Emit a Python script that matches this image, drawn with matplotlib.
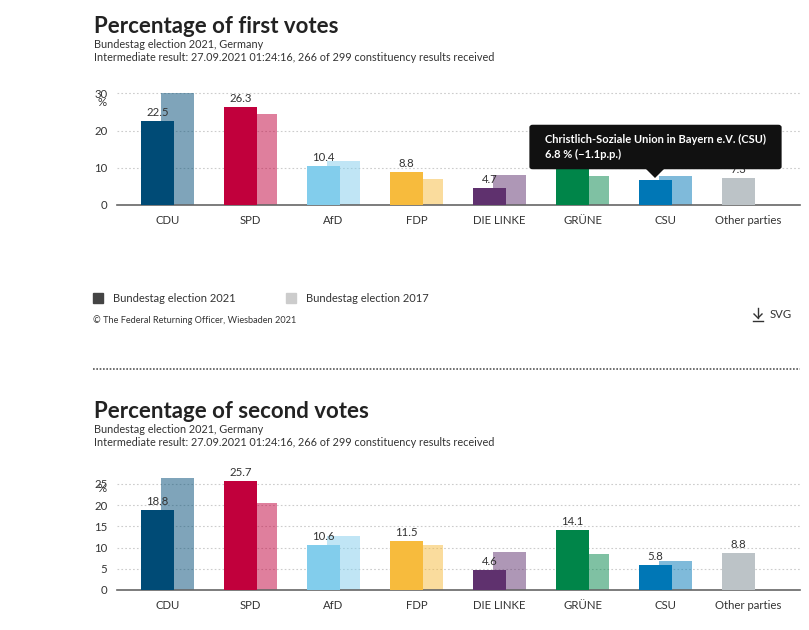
import numpy as np
import matplotlib
matplotlib.use("Agg")
import matplotlib.pyplot as plt
from matplotlib.patches import FancyBboxPatch, Polygon, Rectangle

plt.rcParams['font.family'] = ['Lato', 'DejaVu Sans']

parties = ['CDU', 'SPD', 'AfD', 'FDP', 'DIE LINKE', 'GRÜNE', 'CSU', 'Other parties']
colors = ['#004b76', '#c1003c', '#82cdec', '#f7bb3d', '#5f316e', '#008549', '#0077b6', '#bcc3c7']

first_2021 = [22.5, 26.3, 10.4, 8.8, 4.7, 13.4, 6.8, 7.3]
first_2017 = [30.2, 24.5, 11.9, 7.1, 8.1, 7.8, 7.9, np.nan]
second_2021 = [18.8, 25.7, 10.6, 11.5, 4.6, 14.1, 5.8, 8.8]
second_2017 = [26.4, 20.5, 12.7, 10.6, 9.0, 8.5, 6.8, np.nan]

W, H = 809, 630
TXT = '#333333'

fig = plt.figure(figsize=(W / 100, H / 100), dpi=100)


def fx(px):
    return px / W


def fy(py):
    return 1 - py / H


def header(y, title):
    fig.text(fx(94), fy(y), title, fontsize=16, fontweight='bold', color='#222222', va='baseline')
    fig.text(fx(94), fy(y + 15), 'Bundestag election 2021, Germany', fontsize=7.8, color=TXT, va='baseline')
    fig.text(fx(94), fy(y + 28), 'Intermediate result: 27.09.2021 01:24:16, 266 of 299 constituency results received',
             fontsize=7.8, color=TXT, va='baseline')


def chart(bottom_px, px_per_unit, ymax, ticks, new, old, pct_dy, hidden=()):
    top_px = bottom_px - ymax * px_per_unit
    ax = fig.add_axes([fx(117), fy(bottom_px), fx(800) - fx(117), (bottom_px - top_px) / H])
    x = np.arange(len(parties))
    w = 33 / 83
    off = 10 / 83
    ax.bar(x + off, old, width=w, color=colors, alpha=0.5, zorder=2, linewidth=0)
    ax.bar(x - off, new, width=w, color=colors, zorder=3, linewidth=0)
    for i, (xi, v) in enumerate(zip(x, new)):
        if i in hidden:  # label hidden under the hover tooltip
            continue
        ax.text(xi - off, v + 3 / px_per_unit, f'{v:.1f}', ha='center', va='bottom',
                fontsize=8.2, color=TXT, zorder=4)
    ax.set_xlim((117 - 167.5) / 83, (800 - 167.5) / 83)
    ax.set_ylim(0, ymax)
    ax.set_yticks(ticks)
    ax.set_yticklabels([str(t) for t in ticks])
    for t in ticks[1:]:
        ax.axhline(t, color='#cccccc', lw=0.8, ls=(0, (1.5, 2)), zorder=1)
    ax.set_xticks(x)
    ax.set_xticklabels(parties)
    ax.tick_params(axis='both', length=0, labelsize=8.2, labelcolor=TXT)
    ax.tick_params(axis='y', pad=7)
    ax.tick_params(axis='x', pad=7)
    for s in ['top', 'right', 'left']:
        ax.spines[s].set_visible(False)
    ax.spines['bottom'].set_color('#666666')
    ax.spines['bottom'].set_linewidth(1.2)
    ax.text(-15 / 683, ticks[-1] - pct_dy / px_per_unit, '%', transform=ax.get_yaxis_transform(),
            ha='center', va='center', fontsize=8.2, color=TXT)
    return ax


header(33, 'Percentage of first votes')
chart(205, 3.72, 31, [0, 10, 20, 30], first_2021, first_2017, 9, hidden=(6,))

# legend
fig.patches.append(Rectangle((fx(93), fy(303)), fx(10), 10 / H, color='#444444', transform=fig.transFigure))
fig.text(fx(113), fy(298), 'Bundestag election 2021', fontsize=8, color=TXT, va='center')
fig.patches.append(Rectangle((fx(286), fy(303)), fx(10), 10 / H, color='#cccccc', transform=fig.transFigure))
fig.text(fx(306), fy(298), 'Bundestag election 2017', fontsize=8, color=TXT, va='center')
fig.text(fx(93), fy(320), '© The Federal Returning Officer, Wiesbaden 2021', fontsize=6.6, color=TXT, va='center')

# svg download link
fig.text(fx(770), fy(314), 'SVG', fontsize=8.2, color=TXT, va='center')
fig.add_artist(plt.Line2D([fx(758), fx(758)], [fy(308), fy(318)], color=TXT, lw=1, transform=fig.transFigure))
fig.add_artist(plt.Line2D([fx(754), fx(758), fx(762)], [fy(314), fy(318), fy(314)], color=TXT, lw=1,
                          transform=fig.transFigure))
fig.add_artist(plt.Line2D([fx(753), fx(763)], [fy(320.5), fy(320.5)], color=TXT, lw=1, transform=fig.transFigure))

# separator
fig.add_artist(plt.Line2D([fx(93), fx(800)], [fy(369), fy(369)], color='#555555', lw=1.2, ls=(0, (1, 1)),
                          transform=fig.transFigure))

# tooltip over CSU
tip = FancyBboxPatch((fx(531), fy(168)), fx(780) - fx(531), (168 - 126) / H,
                     boxstyle='round,pad=0.002,rounding_size=0.004', fc='#111111', ec='none',
                     transform=fig.transFigure, zorder=10)
fig.patches.append(tip)
fig.patches.append(Polygon([(fx(646), fy(169)), (fx(664), fy(169)), (fx(655), fy(178))], closed=True,
                           fc='#111111', ec='none', transform=fig.transFigure, zorder=10))
fig.text(fx(545), fy(139), 'Christlich-Soziale Union in Bayern e.V. (CSU)', fontsize=8, fontweight='bold',
         color='white', va='center', zorder=11)
fig.text(fx(545), fy(154), '6.8 % (−1.1p.p.)', fontsize=8, fontweight='bold', color='white', va='center', zorder=11)

header(418, 'Percentage of second votes')
chart(590, 4.24, 27, [0, 5, 10, 15, 20, 25], second_2021, second_2017, 4)

fig.savefig('out.png', dpi=100)
